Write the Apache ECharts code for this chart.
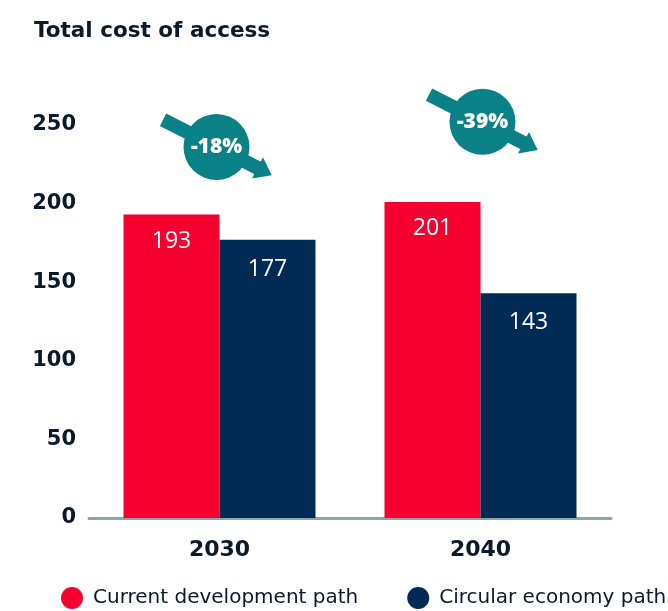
<!DOCTYPE html>
<html>
<head>
<meta charset="utf-8">
<script src="https://cdn.jsdelivr.net/npm/echarts@6/dist/echarts.min.js"></script>
<style>
  html, body { margin: 0; padding: 0; background: #fff; }
  #chart { width: 668px; height: 611px; }
</style>
</head>
<body>
<div id="chart"></div>
<script>
// Total cost of access, by year and pathway
const years = ['2030', '2040'];
const currentPath = [193, 201];
const circularPath = [177, 143];
const changeLabels = ['-18%', '-39%'];
const yTicks = [0, 50, 100, 150, 200, 250];
const seriesNames = ['Current development path', 'Circular economy path'];

const RED = '#f5002f';
const NAVY = '#012b55';
const TEAL = '#0a8187';
const INK = '#0b1a2b';
const HEAVY = '"DejaVu Sans", sans-serif';
const PLAIN = '"DejaVu Sans", sans-serif';
const LABEL = '"Open Sans", sans-serif';

const chart = echarts.init(document.getElementById('chart'), null, { renderer: 'canvas' });

const option = {
  animation: false,
  backgroundColor: '#fff',
  title: {
    text: 'Total cost of access',
    left: 29, top: 15,
    textStyle: { fontFamily: HEAVY, fontWeight: 'bold', fontSize: 21.5, color: INK }
  },
  legend: {
    bottom: 2, left: 61, width: 607,
    padding: 0,
    itemGap: 49,
    icon: 'circle',
    itemWidth: 22, itemHeight: 22,
    textStyle: { fontFamily: PLAIN, fontSize: 20, color: INK, padding: [0, 0, 0, 5] },
    data: seriesNames
  },
  grid: { left: 89, right: 57, top: 125, bottom: 93, containLabel: false },
  xAxis: {
    type: 'category',
    data: years,
    axisLine: { lineStyle: { color: '#8ea3b0', width: 3 } },
    axisTick: { show: false },
    axisLabel: { margin: 21, fontFamily: HEAVY, fontWeight: 'bold', fontSize: 22, color: INK }
  },
  yAxis: {
    type: 'value',
    min: yTicks[0], max: yTicks[yTicks.length - 1], interval: 50,
    axisLine: { show: false },
    axisTick: { show: false },
    splitLine: { show: false },
    axisLabel: { margin: 13, fontFamily: HEAVY, fontWeight: 'bold', fontSize: 21, color: INK }
  },
  series: [
    {
      name: seriesNames[0], type: 'bar', data: currentPath,
      barWidth: 96, barGap: '0%',
      itemStyle: { color: RED },
      label: { show: true, position: 'insideTop', distance: 15, color: '#fff', fontFamily: LABEL, fontSize: 23 }
    },
    {
      name: seriesNames[1], type: 'bar', data: circularPath,
      barWidth: 96, barGap: '0%',
      itemStyle: { color: NAVY },
      label: { show: true, position: 'insideTop', distance: 18, color: '#fff', fontFamily: LABEL, fontSize: 23 }
    }
  ]
};
chart.setOption(option);

// Change badges: a teal disc crossed by a downward arrow, above each year's bars
function badge(cx, cy, text) {
  const ang = -27 * Math.PI / 180;
  return {
    type: 'group',
    children: [
      {
        type: 'group', x: cx, y: cy, rotation: ang,
        children: [
          { type: 'rect', shape: { x: -60, y: -7, width: 108, height: 14 }, style: { fill: TEAL } },
          { type: 'polygon', shape: { points: [[46, -12], [62, 0], [46, 12]] }, style: { fill: TEAL } }
        ]
      },
      { type: 'circle', shape: { cx: cx, cy: cy, r: 33 }, style: { fill: TEAL } },
      {
        type: 'text', x: cx, y: cy,
        style: { text: text, fill: '#fff', fontFamily: LABEL, fontWeight: 800, fontSize: 21, align: 'center', verticalAlign: 'middle' }
      }
    ]
  };
}
const badgeValues = [236, 252];
const badgeShift = [-3, 2];
const graphics = years.map((y, i) => {
  const p = chart.convertToPixel({ gridIndex: 0 }, [y, badgeValues[i]]);
  return badge(p[0] + badgeShift[i], p[1], changeLabels[i]);
});
chart.setOption({ graphic: graphics });
</script>
</body>
</html>
